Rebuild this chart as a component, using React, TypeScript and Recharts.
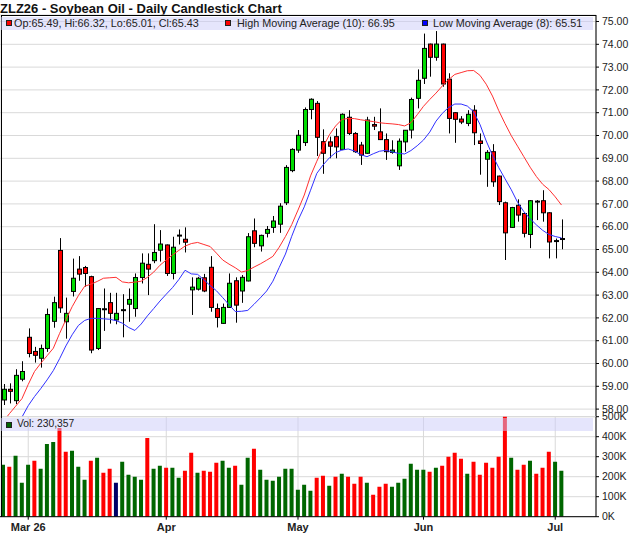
import React from 'react';
import { ComposedChart, Bar, Line, XAxis, YAxis, CartesianGrid, Cell } from 'recharts';

const FONT = '"Liberation Sans", Arial, sans-serif';
const W = 640;
const H = 536;

// daily bars, late Feb 2026 -> Jul 2 2026
const opens = [
  58.40, 58.87, 58.37, 59.31, 61.15, 60.53, 60.23, 60.66, 61.85, 64.96,
  61.83, 63.16, 64.14, 64.21, 63.81, 60.66, 62.36, 62.67, 61.91, 62.34,
  62.60, 62.41, 63.77, 64.35, 64.51, 64.97, 65.20, 63.95, 65.60, 65.45,
  63.23, 63.26, 63.76, 64.22, 62.41, 61.76, 62.46, 63.63, 63.18, 63.62,
  65.82, 65.16, 65.71, 65.97, 66.11, 67.05, 68.46, 69.36, 69.69, 71.14,
  71.41, 69.73, 69.72, 69.95, 69.39, 70.80, 70.09, 69.58, 69.22, 70.48,
  70.16, 69.82, 69.26, 68.67, 69.72, 70.24, 71.63, 72.51, 74.01, 73.43,
  74.01, 72.47, 71.00, 70.72, 70.53, 71.11, 69.76, 68.96, 69.29, 68.22,
  67.05, 65.97, 66.94, 66.58, 65.66, 67.12, 67.14, 66.61, 65.35, 65.49,
];
const highs = [
  59.10, 59.13, 59.75, 60.10, 61.54, 60.73, 60.83, 62.41, 62.93, 65.50,
  62.89, 64.60, 64.71, 64.28, 63.85, 62.43, 63.29, 63.10, 63.10, 63.04,
  63.29, 63.95, 64.83, 64.83, 66.11, 65.85, 65.22, 65.56, 65.88, 65.97,
  63.78, 63.80, 63.93, 64.71, 62.63, 62.63, 63.95, 63.78, 63.88, 65.72,
  66.36, 65.65, 66.03, 66.47, 67.03, 68.70, 69.44, 70.24, 71.23, 71.63,
  71.51, 70.27, 69.95, 70.31, 70.97, 71.11, 70.15, 69.72, 70.82, 70.82,
  71.19, 70.09, 69.79, 69.87, 70.24, 71.66, 72.90, 74.47, 74.03, 74.58,
  74.03, 72.73, 71.02, 70.85, 71.11, 71.33, 70.09, 69.36, 69.62, 68.24,
  67.10, 66.87, 67.20, 66.60, 67.17, 67.17, 67.60, 66.63, 65.48, 66.32,
];
const lows = [
  58.18, 58.25, 58.22, 59.22, 60.27, 60.04, 59.82, 60.51, 61.57, 62.22,
  61.09, 62.94, 63.63, 63.37, 60.45, 60.59, 61.43, 61.75, 61.72, 61.15,
  61.83, 62.05, 63.51, 63.00, 64.40, 64.47, 63.84, 63.69, 65.22, 64.87,
  62.13, 63.20, 63.13, 62.27, 61.58, 61.74, 62.44, 61.79, 62.66, 63.60,
  65.10, 64.91, 65.53, 65.73, 65.73, 66.95, 68.39, 69.24, 69.54, 70.71,
  69.10, 68.32, 69.00, 69.00, 69.36, 70.02, 69.24, 68.71, 69.20, 70.24,
  69.80, 68.93, 69.20, 68.49, 69.29, 69.87, 71.19, 72.26, 72.58, 73.28,
  72.14, 70.09, 69.68, 70.50, 70.41, 69.58, 68.28, 67.75, 67.75, 66.95,
  64.54, 65.95, 66.22, 65.53, 65.06, 66.29, 66.22, 64.61, 64.61, 65.01,
];
const closes = [
  58.87, 58.78, 59.48, 59.65, 60.44, 60.36, 60.66, 62.15, 62.67, 62.44,
  62.20, 63.74, 63.92, 63.95, 60.59, 62.41, 62.40, 62.20, 62.20, 62.34,
  62.81, 63.77, 64.40, 64.14, 64.87, 65.24, 63.95, 65.10, 65.62, 65.32,
  63.35, 63.74, 63.18, 62.46, 62.02, 62.46, 63.52, 62.56, 63.78, 65.56,
  65.27, 65.62, 65.88, 66.25, 66.90, 68.60, 69.39, 70.01, 71.14, 71.59,
  69.92, 69.22, 69.53, 69.50, 70.93, 70.09, 69.29, 69.14, 70.68, 70.41,
  69.82, 69.29, 69.36, 69.75, 70.23, 71.58, 72.42, 73.82, 73.43, 74.01,
  72.26, 70.75, 70.71, 70.59, 70.93, 70.12, 69.65, 69.26, 67.97, 67.10,
  65.73, 66.84, 66.51, 65.71, 67.14, 67.08, 66.61, 65.33, 65.39, 65.43,
];
const volumes = [
  260000, 250000, 305000, 170000, 260000, 280000, 240000, 364000, 374000, 444000,
  325000, 330000, 250000, 185000, 280000, 295000, 220000, 240000, 170000, 275000,
  210000, 200000, 185000, 394000, 240000, 255000, 245000, 245000, 195000, 230000,
  320000, 220000, 230000, 225000, 270000, 280000, 245000, 255000, 160000, 295000,
  340000, 235000, 185000, 180000, 200000, 240000, 240000, 135000, 160000, 130000,
  195000, 205000, 155000, 200000, 215000, 200000, 165000, 200000, 170000, 110000,
  150000, 165000, 150000, 170000, 190000, 265000, 235000, 235000, 225000, 245000,
  255000, 300000, 320000, 290000, 215000, 275000, 210000, 270000, 245000, 300000,
  560000, 295000, 235000, 260000, 280000, 215000, 245000, 325000, 275000, 230357,
];
// High Moving Average (10), as drawn
const highAvg = [
  57.45, 57.80, 58.13, 58.46, 59.08, 59.65, 60.01, 60.34, 60.67, 61.32,
  61.92, 62.49, 62.98, 63.39, 63.48, 63.60, 63.74, 63.76, 63.78, 63.58,
  63.54, 63.57, 63.61, 63.78, 64.01, 64.31, 64.54, 64.76, 64.96, 65.15,
  65.26, 65.31, 65.22, 65.13, 64.84, 64.54, 64.36, 64.20, 64.01, 64.08,
  64.23, 64.37, 64.53, 64.70, 65.10, 65.57, 66.09, 66.73, 67.39, 68.23,
  68.87, 69.49, 70.03, 70.42, 70.70, 70.75, 70.74, 70.69, 70.65, 70.61,
  70.56, 70.53, 70.51, 70.48, 70.42, 70.56, 70.91, 71.28, 71.58, 71.86,
  72.17, 72.45, 72.68, 72.76, 72.84, 72.85, 72.64, 72.25, 71.73, 71.09,
  70.52, 69.99, 69.53, 69.07, 68.61, 68.20, 67.86, 67.63, 67.31, 66.95,
];
// Low Moving Average (8), as drawn
const lowAvg = [
  56.17, 56.66, 57.16, 57.65, 58.15, 58.55, 58.90, 59.28, 59.69, 60.21,
  60.77, 61.26, 61.67, 61.89, 61.98, 61.98, 61.96, 61.94, 61.88, 61.77,
  61.58, 61.45, 61.73, 62.09, 62.41, 62.74, 63.04, 63.33, 63.68, 64.09,
  63.93, 63.91, 63.67, 63.42, 63.19, 62.89, 62.58, 62.28, 62.29, 62.33,
  62.60, 62.88, 63.18, 63.61, 64.21, 64.80, 65.58, 66.28, 66.87, 67.60,
  68.34, 68.71, 69.02, 69.25, 69.36, 69.41, 69.32, 69.16, 69.07, 69.20,
  69.31, 69.35, 69.28, 69.22, 69.19, 69.34, 69.55, 69.80, 70.15, 70.63,
  70.97, 71.23, 71.38, 71.38, 71.29, 71.04, 70.49, 69.76, 69.13, 68.59,
  68.10, 67.62, 67.07, 66.66, 66.35, 66.08, 65.84, 65.66, 65.57, 65.51,
];

const priceTicks = [58, 59, 60, 61, 62, 63, 64, 65, 66, 67, 68, 69, 70, 71, 72, 73, 74, 75];
const volumeTicks = [0, 100000, 200000, 300000, 400000, 500000];
const monthTicks = [4, 26, 47, 67, 88];
const monthLabels = ['Mar 26', 'Apr', 'May', 'Jun', 'Jul'];
const emptySlots = 5;

const rows = Array.from({ length: opens.length + emptySlots }, (_, i) =>
  i < opens.length
    ? { i, o: opens[i], h: highs[i], l: lows[i], c: closes[i], v: volumes[i], hma: highAvg[i], lma: lowAvg[i] }
    : { i }
);

function volumeColor(i: number) {
  if (i >= closes.length) return 'none';
  if (i === 0 || closes[i] > closes[i - 1]) return '#006600';
  if (closes[i] < closes[i - 1]) return '#ff0000';
  return '#000066';
}

function Candle(props: any) {
  const { x, y, width, height, payload } = props;
  if (!payload || payload.h == null) return null;
  const top = Math.min(y, y + height);
  const span = Math.abs(height);
  const toY = (p: number) => top + ((payload.h - p) / (payload.h - payload.l)) * span;
  const cx = Math.round(x + width / 2) + 0.5;
  const yO = toY(payload.o);
  const yC = toY(payload.c);
  const bodyTop = Math.min(yO, yC);
  const bodyH = Math.abs(yO - yC);
  const fill = payload.c > payload.o ? '#00dd00' : '#ff0000';
  return (
    <g>
      <line x1={cx} x2={cx} y1={top} y2={top + span} stroke="#000" strokeWidth={1} />
      {bodyH < 1.5 ? (
        <rect x={cx - 2.5} y={(yO + yC) / 2 - 1} width={5} height={2} fill="#000" />
      ) : (
        <rect x={cx - 2} y={bodyTop} width={4} height={bodyH} fill={fill} stroke="#000" strokeWidth={1} />
      )}
    </g>
  );
}

const axisTick = { fontSize: 10.5, fill: '#222', fontFamily: FONT };
const PRICE_BOTTOM = 416.7;

function Swatch({ color }: { color: string }) {
  return (
    <span
      style={{
        position: 'absolute', width: 6, height: 6, background: color,
        border: '1px solid #222', boxSizing: 'border-box', top: 3.5,
      }}
    />
  );
}

export default function App() {
  const last = opens.length - 1;
  const f = (n: number) => n.toFixed(2);
  const bandStyle: React.CSSProperties = {
    position: 'absolute', left: 1, width: 592, background: 'rgba(204,204,250,0.5)',
    fontFamily: FONT, color: '#222', whiteSpace: 'nowrap',
  };
  return (
    <div style={{ position: 'fixed', left: 0, top: 0, width: W, height: H, background: '#fff', overflow: 'hidden' }}>
      <div style={{ position: 'absolute', left: 0, top: 1.5, fontFamily: FONT, fontWeight: 700, fontSize: 13, lineHeight: '13px', color: '#111', whiteSpace: 'nowrap' }}>
        ZLZ26 - Soybean Oil - Daily Candlestick Chart
      </div>

      <div style={{ position: 'absolute', left: 0, top: 0 }}>
        <ComposedChart width={W} height={H} data={rows} margin={{ top: 15, right: 0, bottom: H - PRICE_BOTTOM, left: 0 }}>
          <CartesianGrid stroke="#d9d9d9" />
          <XAxis
            dataKey="i" ticks={monthTicks} interval={0} tick={false} tickLine={false} height={0}
            axisLine={{ stroke: '#000', strokeWidth: 2 }}
          />
          <YAxis
            orientation="right" width={44} domain={[57.667, 75.285]} allowDataOverflow
            ticks={priceTicks} interval={0} tickFormatter={(v: number) => v.toFixed(2)}
            tickSize={3} tickMargin={3} axisLine={{ stroke: '#000' }} tickLine={{ stroke: '#000' }} tick={axisTick}
          />
          <Bar
            dataKey={(d: any) => (d.h == null ? undefined : [d.l, d.h])}
            barSize={5} shape={Candle} isAnimationActive={false}
          />
          <Line dataKey="hma" type="linear" stroke="#ff3030" strokeWidth={1} dot={false} isAnimationActive={false} />
          <Line dataKey="lma" type="linear" stroke="#3030ff" strokeWidth={1} dot={false} isAnimationActive={false} />
        </ComposedChart>
      </div>

      <div style={{ position: 'absolute', left: 0, top: 0 }}>
        <ComposedChart width={W} height={H} data={rows} margin={{ top: PRICE_BOTTOM, right: 0, bottom: 0, left: 0 }}>
          <CartesianGrid stroke="#d9d9d9" />
          <XAxis
            dataKey="i" ticks={monthTicks} interval={0}
            tickFormatter={(v: number) => monthLabels[monthTicks.indexOf(v)]}
            height={H - 516.7} tickSize={3} tickMargin={3}
            axisLine={{ stroke: '#000' }} tickLine={{ stroke: '#000' }}
            tick={{ fontSize: 11, fontWeight: 700, fill: '#222', fontFamily: FONT }}
          />
          <YAxis
            orientation="right" width={44} domain={[0, 500000]} allowDataOverflow
            ticks={volumeTicks} interval={0} tickFormatter={(v: number) => `${v / 1000}K`}
            tickSize={3} tickMargin={3} axisLine={{ stroke: '#000' }} tickLine={{ stroke: '#000' }} tick={axisTick}
          />
          <Bar dataKey="v" barSize={4} isAnimationActive={false}>
            {rows.map((r) => (
              <Cell key={r.i} fill={volumeColor(r.i)} />
            ))}
          </Bar>
        </ComposedChart>
      </div>

      {/* frame */}
      <div style={{ position: 'absolute', left: 1, top: 15, width: 595, height: 502, borderLeft: '1px solid #000', borderTop: '1px solid #000', boxSizing: 'border-box' }} />

      {/* price legend */}
      <div style={{ ...bandStyle, top: 16.7, height: 13.3, fontSize: 10.8, lineHeight: '13.3px' }}>
        <span style={{ position: 'absolute', left: 5 }}><Swatch color="#ff0000" /></span>
        <span style={{ position: 'absolute', left: 13 }}>
          {`Op:${f(opens[last])}, Hi:${f(highs[last])}, Lo:${f(lows[last])}, Cl:${f(closes[last])}`}
        </span>
        <span style={{ position: 'absolute', left: 224 }}><Swatch color="#ff0000" /></span>
        <span style={{ position: 'absolute', left: 236 }}>{`High Moving Average (10): ${f(highAvg[last])}`}</span>
        <span style={{ position: 'absolute', left: 421 }}><Swatch color="#0000ff" /></span>
        <span style={{ position: 'absolute', left: 432 }}>{`Low Moving Average (8): ${f(lowAvg[last])}`}</span>
      </div>

      {/* volume legend */}
      <div style={{ ...bandStyle, top: 418.3, height: 12.4, fontSize: 10.3, lineHeight: '12.4px' }}>
        <span style={{ position: 'absolute', left: 5 }}><Swatch color="#006600" /></span>
        <span style={{ position: 'absolute', left: 16 }}>{`Vol: ${volumes[last].toLocaleString('en-US')}`}</span>
      </div>
    </div>
  );
}
